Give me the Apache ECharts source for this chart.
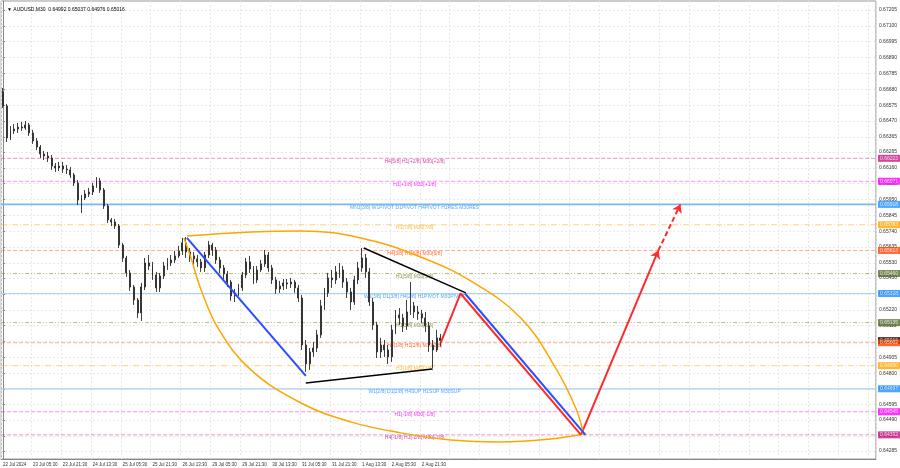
<!DOCTYPE html>
<html><head><meta charset="utf-8">
<script src="https://cdn.jsdelivr.net/npm/echarts@6/dist/echarts.min.js"></script>
<style>html,body{margin:0;padding:0;background:#fff}#c{width:900px;height:468px}</style>
</head><body><div id="c"></div>
<script>
// ---- data ----
const titleText = '\u25BC AUDUSD,M30  0.64992 0.65037 0.64976 0.65016';
const tickLabels = ['22 Jul 2024','23 Jul 05:30','23 Jul 21:30','24 Jul 13:30','25 Jul 05:30','25 Jul 21:30','26 Jul 13:30','29 Jul 05:30','29 Jul 21:30','30 Jul 13:30','31 Jul 05:30','31 Jul 21:30','1 Aug 13:30','2 Aug 05:30','2 Aug 21:30'];
const yTicks = [0.67205,0.67100,0.66995,0.66890,0.66785,0.66680,0.66575,0.66470,0.66365,0.66265,0.66160,0.66055,0.65950,0.65845,0.65740,0.65635,0.65530,0.65430,0.65325,0.65220,0.65115,0.65010,0.64905,0.64800,0.64695,0.64595,0.64490,0.64385,0.64285];
// 2-hour candles: [open, close, low, high]
const candles = [
[0.66662,0.66570,0.66556,0.66689],[0.66570,0.66358,0.66331,0.66583],[0.66358,0.66404,0.66344,0.66437],[0.66404,0.66417,0.66384,0.66450],
[0.66417,0.66430,0.66391,0.66457],[0.66430,0.66424,0.66404,0.66464],[0.66424,0.66444,0.66411,0.66470],[0.66444,0.66391,0.66371,0.66457],
[0.66391,0.66338,0.66318,0.66411],[0.66338,0.66298,0.66278,0.66358],[0.66298,0.66252,0.66225,0.66311],[0.66252,0.66238,0.66212,0.66272],
[0.66238,0.66225,0.66199,0.66265],[0.66225,0.66172,0.66146,0.66245],[0.66172,0.66159,0.66133,0.66192],[0.66159,0.66172,0.66139,0.66199],
[0.66172,0.66152,0.66126,0.66199],[0.66152,0.66146,0.66119,0.66179],[0.66146,0.66113,0.66093,0.66166],[0.66113,0.66060,0.66040,0.66126],
[0.66060,0.65947,0.65914,0.66080],[0.65947,0.65960,0.65861,0.65980],[0.65960,0.65987,0.65947,0.66013],[0.65987,0.66000,0.65967,0.66027],
[0.66000,0.66040,0.65980,0.66060],[0.66040,0.66073,0.66027,0.66099],[0.66073,0.66013,0.65994,0.66093],[0.66013,0.65908,0.65888,0.66027],
[0.65908,0.65815,0.65795,0.65921],[0.65815,0.65802,0.65775,0.65828],[0.65802,0.65775,0.65755,0.65821],[0.65775,0.65649,0.65629,0.65788],
[0.65649,0.65563,0.65537,0.65663],[0.65563,0.65464,0.65438,0.65577],[0.65464,0.65371,0.65345,0.65484],[0.65371,0.65285,0.65252,0.65385],
[0.65285,0.65199,0.65166,0.65298],[0.65199,0.65371,0.65146,0.65398],[0.65371,0.65530,0.65351,0.65563],[0.65530,0.65510,0.65484,0.65583],
[0.65510,0.65451,0.65418,0.65537],[0.65451,0.65365,0.65338,0.65471],[0.65365,0.65444,0.65338,0.65464],[0.65444,0.65510,0.65424,0.65537],
[0.65510,0.65530,0.65484,0.65563],[0.65530,0.65550,0.65510,0.65583],[0.65550,0.65577,0.65530,0.65610],[0.65577,0.65610,0.65563,0.65643],
[0.65610,0.65663,0.65583,0.65696],[0.65663,0.65603,0.65563,0.65702],[0.65603,0.65577,0.65537,0.65629],[0.65577,0.65557,0.65517,0.65603],
[0.65557,0.65537,0.65504,0.65583],[0.65537,0.65497,0.65471,0.65557],[0.65497,0.65583,0.65471,0.65603],[0.65583,0.65649,0.65563,0.65676],
[0.65649,0.65616,0.65577,0.65663],[0.65616,0.65550,0.65524,0.65636],[0.65550,0.65497,0.65464,0.65570],[0.65497,0.65457,0.65424,0.65517],
[0.65457,0.65404,0.65371,0.65477],[0.65404,0.65312,0.65279,0.65418],[0.65312,0.65332,0.65272,0.65358],[0.65332,0.65365,0.65312,0.65391],
[0.65365,0.65451,0.65345,0.65471],[0.65451,0.65537,0.65431,0.65563],[0.65537,0.65490,0.65464,0.65577],[0.65490,0.65418,0.65391,0.65510],
[0.65418,0.65484,0.65398,0.65510],[0.65484,0.65524,0.65471,0.65550],[0.65524,0.65583,0.65504,0.65616],[0.65583,0.65497,0.65471,0.65603],
[0.65497,0.65418,0.65391,0.65517],[0.65418,0.65358,0.65325,0.65438],[0.65358,0.65378,0.65332,0.65411],[0.65378,0.65398,0.65351,0.65424],
[0.65398,0.65391,0.65358,0.65424],[0.65391,0.65404,0.65365,0.65431],[0.65404,0.65365,0.65332,0.65418],[0.65365,0.65298,0.65272,0.65385],
[0.65298,0.64987,0.64954,0.65318],[0.64987,0.64862,0.64809,0.65020],[0.64862,0.64941,0.64822,0.64967],[0.64941,0.64967,0.64908,0.65007],
[0.64967,0.65054,0.64941,0.65087],[0.65054,0.65246,0.65034,0.65285],[0.65246,0.65332,0.65219,0.65365],[0.65332,0.65431,0.65305,0.65464],
[0.65431,0.65418,0.65365,0.65484],[0.65418,0.65471,0.65391,0.65510],[0.65471,0.65484,0.65431,0.65530],[0.65484,0.65404,0.65365,0.65510],
[0.65404,0.65338,0.65298,0.65431],[0.65338,0.65272,0.65219,0.65365],[0.65272,0.65418,0.65252,0.65444],[0.65418,0.65497,0.65391,0.65537],
[0.65497,0.65563,0.65471,0.65629],[0.65563,0.65471,0.65431,0.65590],[0.65471,0.65272,0.65246,0.65497],[0.65272,0.65120,0.65087,0.65298],
[0.65120,0.64941,0.64901,0.65140],[0.64941,0.64987,0.64901,0.65034],[0.64987,0.64954,0.64908,0.65020],[0.64954,0.64908,0.64862,0.64987],
[0.64908,0.65087,0.64875,0.65120],[0.65087,0.65186,0.65060,0.65219],[0.65186,0.65166,0.65120,0.65232],[0.65166,0.65113,0.65073,0.65193],
[0.65113,0.65206,0.65087,0.65285],[0.65206,0.65246,0.65186,0.65404],[0.65246,0.65206,0.65166,0.65272],[0.65206,0.65193,0.65153,0.65246],
[0.65193,0.65166,0.65133,0.65219],[0.65166,0.65113,0.65073,0.65206],[0.65113,0.64987,0.64941,0.65140],[0.64987,0.64954,0.64835,0.65020],
[0.64954,0.65034,0.64941,0.65087],[0.65034,0.65016,0.64976,0.65060]
];
const currentPrice = 0.65016;
const levelValues = [0.66223,0.66071,0.65918,0.65783,0.65613,0.65460,0.65328,0.65135,0.65002,0.64850,0.64697,0.64545,0.64392];
const levelTexts = ['H4[5/8] H1[+2/8] M30[+2/8]','H1[+1/8] M30[+1/8]','MN1[3/8] W1PIVOT D1PIVOT H4PIVOT H1RES M30RES','H1[7/8] M30[7/8]','H4[3/8] H1[6/8] M30[6/8]','H1[5/8] M30[5/8]','W1[3/8] D1[3/8] H4[2/8] H1PIVOT M30PIVOT','H1[3/8] M30[3/8]','H4[1/8] H1[2/8] M30[2/8]','H1[1/8] M30[1/8]','W1[2/8] D1[2/8] H4SUP H1SUP M30SUP','H1[-1/8] M30[-1/8]','H4[-1/8] H1[-2/8] M30[-2/8]'];
// drawing objects, in [bar index, price]
const ellipseUpper = [[49.2,0.65709],[66.3,0.65735],[79.7,0.65742],[95.7,0.65696],[111.7,0.65570],[125.1,0.65411],[138.5,0.65166],[147.8,0.64835],[153.2,0.64570],[155.3,0.64398]];
const ellipseLower = [[48.4,0.65696],[50.3,0.65563],[53.0,0.65351],[57.8,0.65087],[66.3,0.64822],[79.7,0.64603],[93.0,0.64478],[106.4,0.64405],[119.8,0.64358],[133.1,0.64345],[146.5,0.64365],[155.3,0.64398]];
const blueLine1 = [[49.2,0.65696],[81.0,0.64782]];
const blackTop = [[96.5,0.65629],[123.8,0.65332]];
const blackBottom = [[81.0,0.64736],[114.9,0.64828]];
const redPath = [[117.1,0.65002],[122.4,0.65328],[154.6,0.64392],[175.3,0.65613]];
const redDashed = [[175.3,0.65613],[181.2,0.65918]];
const blueProjection = [[123.6,0.65328],[155.8,0.64392]];

// ---- styles ----
const NCAT = 234;
const textColors = ['#c71585','#ff00ff','#1e90ff','#ffa500','#ff4500','#6b7d23','#1e90ff','#6b7d23','#ff4500','#ffa500','#1e90ff','#ff00ff','#c71585'];
const tagColors = ['#c71585','#ff00ff','#1e90ff','#ffa500','#ff4500','#556b2f','#1e90ff','#556b2f','#ff4500','#ffa500','#1e90ff','#ff00ff','#c71585'];
const lineColors = ['rgba(199,21,133,0.45)','rgba(255,0,255,0.45)','#7ab8f5','rgba(255,165,0,0.5)','rgba(255,69,0,0.45)','rgba(128,128,0,0.55)','#a9d0f7','rgba(128,128,0,0.55)','rgba(255,69,0,0.45)','rgba(255,165,0,0.5)','#a9d0f7','rgba(255,0,255,0.45)','rgba(199,21,133,0.45)'];
const lineTypes = [[4,2],[4,2],'solid',[6,2,1,2],[4,2],[4,2,1,2,1,2],'solid',[4,2,1,2,1,2],[4,2],[6,2,1,2],'solid',[4,2],[4,2]];
const lineWidths = [1,1,1.6,1,1,1,1.2,1,1,1,1.2,1,1];
const FONT = 'Liberation Sans';

const cats = Array.from({length: NCAT}, (_, i) => String(i));

const levelSeries = levelValues.map((v, i) => ({
  type: 'line', xAxisIndex: 1, data: [[-0.5, v], [NCAT - 0.5, v]], symbol: 'none', silent: true, z: 1,
  lineStyle: {color: lineColors[i], type: lineTypes[i], width: lineWidths[i]}
}));

const tagItems = [{v: currentPrice, c: '#000'}].concat(levelValues.map((v, i) => ({v: v, c: tagColors[i]})));
const tagSeries = {
  type: 'scatter', xAxisIndex: 1, silent: true, z: 9, symbol: 'circle', symbolSize: 0.1,
  itemStyle: {color: 'rgba(0,0,0,0)'}, clip: false,
  data: tagItems.map(t => ({value: [NCAT - 0.5, t.v], label: {backgroundColor: t.c}})),
  label: {show: true, position: 'right', distance: 2, color: '#fff', fontSize: 5, fontFamily: FONT,
    padding: [1, 2, 0, 2], lineHeight: 6, formatter: p => p.value[1].toFixed(5)}
};

function line(data, color, width, z, extra) {
  return Object.assign({type: 'line', xAxisIndex: 1, data: data, symbol: 'none', silent: true, z: z,
    lineStyle: {color: color, width: width}}, extra || {});
}

const chart = echarts.init(document.getElementById('c'), null, {renderer: 'canvas'});
chart.setOption({
  animation: false,
  backgroundColor: '#fff',
  title: {text: titleText, left: 2, top: 2, textStyle: {fontSize: 5, fontWeight: 'normal', color: '#000', fontFamily: FONT}},
  grid: {left: 0, right: 24, top: 1, bottom: 9, show: true, borderColor: '#999', borderWidth: 1},
  xAxis: [{
    type: 'category', data: cats, boundaryGap: true,
    axisLine: {lineStyle: {color: '#888'}},
    axisTick: {interval: 7, length: 2, lineStyle: {color: '#888'}},
    axisLabel: {interval: 7, align: 'left', fontSize: 4.5, color: '#333', margin: 3, fontFamily: FONT,
      formatter: (v, idx) => (idx % 8 === 0 && idx / 8 < tickLabels.length) ? tickLabels[idx / 8] : ''},
    splitLine: {show: true, interval: 7, lineStyle: {color: '#e8e8e8', type: [2, 2]}}
  }, {
    type: 'value', min: -0.5, max: NCAT - 0.5, show: false
  }],
  yAxis: {
    type: 'value', position: 'right', min: 0.642321, max: 0.672646, scale: true,
    axisLine: {show: true, lineStyle: {color: '#888'}},
    axisTick: {show: true, length: 2, customValues: yTicks, lineStyle: {color: '#888'}},
    axisLabel: {customValues: yTicks, formatter: v => v.toFixed(5), fontSize: 5, color: '#333', margin: 3, fontFamily: FONT},
    splitLine: {show: true, lineStyle: {color: '#e8e8e8', type: [2, 2]}}
  },
  series: levelSeries.concat([
    {
      type: 'scatter', xAxisIndex: 1, silent: true, z: 2, symbol: 'circle', symbolSize: 0.1,
      itemStyle: {color: 'rgba(0,0,0,0)'},
      data: levelValues.map((v, i) => ({value: [110.1, v], label: {color: textColors[i]}})),
      label: {show: true, position: 'inside', offset: [0, 3], fontSize: 5, fontFamily: FONT,
        formatter: p => levelTexts[p.dataIndex]}
    },
    {
      type: 'candlestick', xAxisIndex: 0, data: candles, barWidth: 1.4, silent: true, z: 5,
      itemStyle: {color: '#444', color0: '#333', borderColor: '#2a2a2a', borderColor0: '#2a2a2a', borderWidth: 0.9}
    },
    line(ellipseUpper, '#ffa500', 1.5, 6, {smooth: 0.4}),
    line(ellipseLower, '#ffa500', 1.5, 6, {smooth: 0.4}),
    line(blueLine1, '#2b4dff', 2, 7),
    line(blackTop, '#000', 1.5, 7),
    line(blackBottom, '#000', 1.5, 7),
    line(blueProjection, '#2b4dff', 2, 7),
    line(redPath.slice(0, 3), '#ff2a2a', 2, 8),
    {
      type: 'line', xAxisIndex: 1, data: [], symbol: 'none', silent: true, z: 8,
      markLine: {silent: true, animation: false, symbol: ['none', 'arrow'], symbolSize: 8, label: {show: false},
        lineStyle: {color: '#ff2a2a', width: 2, type: 'solid'},
        data: [
          [{coord: redPath[2]}, {coord: redPath[3]}],
          [{coord: redDashed[0], lineStyle: {type: [5, 3]}}, {coord: redDashed[1]}]
        ]}
    },
    tagSeries
  ])
});
</script></body></html>
